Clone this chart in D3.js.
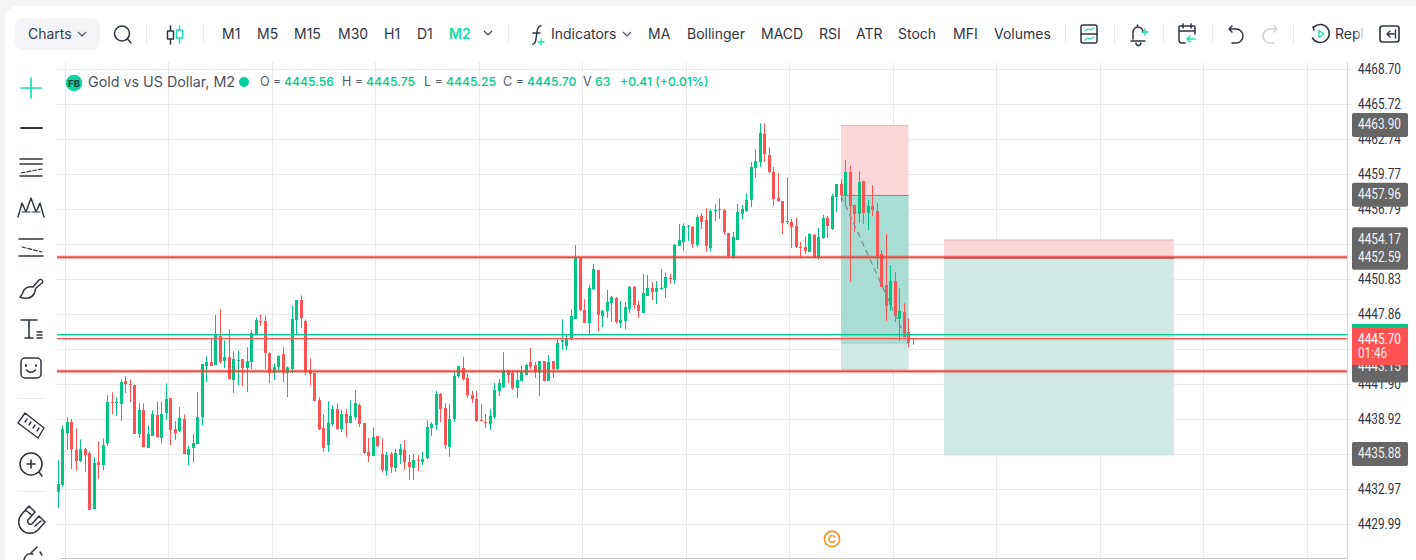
<!DOCTYPE html>
<html><head><meta charset="utf-8">
<script src="https://cdn.jsdelivr.net/npm/d3@7"></script>
<style>html,body{margin:0;padding:0;background:#f4f4f4;overflow:hidden}svg{display:block}text{font-family:Inter,"Noto Sans",sans-serif}</style>
</head><body><svg id="c" width="1416" height="560"></svg>
<script>
const opens=[4432.71,4433.31,4437.73,4438.67,4436.29,4435.35,4436.37,4436.03,4431.26,4435.26,4435.01,4436.88,4440.37,4440.29,4440.20,4442.16,4441.91,4441.82,4437.65,4439.69,4436.46,4437.48,4439.27,4437.31,4439.44,4440.71,4438.07,4437.90,4438.93,4435.86,4436.46,4436.80,4439.10,4443.44,4443.78,4443.52,4445.99,4443.86,4444.20,4442.25,4443.86,4444.03,4443.27,4443.78,4446.16,4447.27,4447.27,4444.54,4442.84,4443.35,4444.46,4442.84,4443.18,4447.35,4449.06,4447.27,4443.10,4442.84,4440.54,4438.16,4436.71,4438.50,4439.78,4438.08,4439.36,4438.59,4439.10,4440.12,4438.59,4436.12,4435.78,4437.48,4435.95,4434.50,4435.95,4434.76,4435.86,4436.29,4435.27,4434.76,4435.47,4435.27,4435.61,4438.16,4438.42,4441.06,4439.87,4436.55,4438.93,4442.59,4443.27,4442.42,4440.97,4440.63,4438.84,4438.67,4438.50,4439.10,4441.31,4441.65,4443.10,4442.85,4441.57,4442.17,4442.68,4443.78,4443.53,4442.85,4443.87,4442.17,4443.87,4443.19,4445.51,4445.15,4445.71,4447.44,4452.69,4448.21,4447.10,4450.00,4451.62,4447.70,4448.13,4448.81,4449.23,4447.11,4447.28,4448.30,4450.17,4448.64,4447.96,4449.40,4450.09,4449.74,4450.00,4450.09,4450.94,4450.77,4453.66,4454.00,4455.31,4455.28,4453.75,4456.22,4455.87,4453.49,4456.64,4456.73,4456.73,4454.77,4452.72,4454.17,4456.39,4456.64,4457.58,4460.30,4460.81,4463.20,4461.41,4459.96,4457.75,4457.49,4455.70,4455.70,4455.36,4453.58,4453.58,4453.15,4454.60,4452.72,4454.34,4456.04,4455.11,4457.83,4458.94,4458.00,4459.96,4457.15,4456.39,4459.20,4456.47,4457.07,4456.64,4452.98,4450.34,4448.64,4450.68,4447.45,4448.04,4446.34,4445.56];
const highs=[4435.41,4438.39,4439.07,4438.95,4438.13,4437.19,4436.46,4436.17,4435.66,4437.02,4437.28,4440.94,4441.20,4440.77,4442.30,4442.56,4442.30,4441.82,4440.26,4440.26,4438.39,4439.66,4440.43,4440.43,4441.96,4440.71,4438.76,4439.95,4439.32,4436.63,4437.65,4441.20,4443.61,4444.26,4445.79,4447.78,4448.26,4445.62,4446.56,4444.69,4444.77,4444.03,4445.03,4446.47,4447.58,4447.84,4447.75,4444.60,4443.66,4444.35,4445.03,4443.41,4448.60,4449.06,4449.45,4447.41,4444.09,4442.84,4440.77,4439.32,4440.43,4440.09,4440.26,4439.70,4439.78,4440.52,4441.40,4440.26,4438.59,4437.31,4438.22,4437.48,4437.28,4436.12,4436.12,4436.38,4436.80,4437.14,4435.86,4435.95,4435.86,4436.12,4438.82,4438.67,4441.31,4441.14,4440.26,4440.21,4442.93,4443.44,4444.21,4442.76,4441.31,4441.31,4440.21,4439.36,4439.78,4442.00,4442.34,4444.61,4443.10,4443.10,4443.10,4443.44,4443.61,4444.97,4443.78,4443.87,4443.87,4444.38,4443.87,4445.74,4447.42,4446.08,4448.27,4453.74,4452.69,4449.12,4450.34,4452.13,4451.62,4448.21,4449.91,4449.40,4449.32,4448.98,4448.89,4450.26,4450.26,4448.98,4451.28,4451.19,4450.60,4450.68,4451.70,4451.36,4451.28,4453.83,4455.53,4455.59,4455.45,4455.36,4456.30,4456.47,4456.87,4456.81,4457.24,4457.72,4456.81,4454.77,4454.85,4457.24,4457.15,4458.14,4460.81,4461.89,4464.10,4464.10,4462.06,4460.39,4459.85,4457.49,4459.51,4455.96,4456.07,4454.00,4454.46,4454.74,4454.68,4455.19,4456.30,4456.21,4458.09,4458.94,4459.34,4460.95,4460.47,4457.15,4460.02,4459.20,4457.58,4458.83,4457.32,4453.32,4454.68,4452.04,4451.42,4450.06,4448.78,4447.50,4445.75];
const lows=[4431.35,4433.16,4436.29,4434.67,4434.53,4435.26,4434.41,4431.18,4431.26,4433.82,4434.58,4436.63,4439.35,4439.18,4438.76,4441.14,4440.37,4437.65,4437.31,4436.54,4436.46,4437.48,4437.39,4436.88,4438.84,4436.71,4437.14,4437.82,4435.95,4435.01,4435.26,4436.80,4438.41,4442.08,4443.44,4443.52,4443.61,4443.27,4442.30,4441.14,4441.82,4441.74,4441.22,4443.18,4446.08,4446.84,4443.18,4441.99,4442.25,4442.84,4442.08,4440.80,4442.84,4446.05,4446.67,4442.67,4441.82,4440.46,4437.99,4436.12,4436.12,4438.33,4437.99,4437.82,4437.40,4438.59,4438.84,4438.25,4435.95,4435.27,4435.78,4436.55,4434.39,4434.08,4434.33,4434.42,4435.10,4434.59,4433.74,4433.74,4434.50,4435.01,4435.52,4437.48,4437.99,4438.67,4436.38,4435.70,4438.67,4442.42,4442.17,4440.72,4440.29,4438.67,4438.76,4438.16,4437.99,4438.93,4440.89,4441.57,4442.00,4441.40,4440.72,4442.17,4442.68,4443.19,4442.42,4440.89,4442.17,4442.17,4442.42,4443.10,4444.80,4444.80,4445.66,4447.44,4448.13,4447.10,4446.11,4449.91,4446.42,4446.76,4447.53,4447.19,4447.02,4446.68,4446.59,4447.96,4448.30,4447.53,4447.96,4449.40,4449.06,4448.72,4449.91,4449.23,4450.43,4450.43,4453.66,4453.24,4454.09,4453.49,4453.58,4455.11,4453.15,4453.24,4455.79,4455.96,4454.60,4452.72,4452.55,4454.17,4455.96,4456.56,4456.98,4459.45,4460.39,4460.81,4459.88,4457.07,4457.41,4454.68,4455.53,4453.49,4453.49,4452.72,4452.98,4453.15,4452.64,4452.47,4454.26,4454.34,4455.02,4456.56,4457.41,4457.24,4450.60,4454.85,4455.62,4455.53,4455.02,4456.21,4451.70,4450.17,4447.28,4448.13,4447.19,4445.57,4445.91,4445.06,4445.25];
const closes=[4433.39,4438.07,4438.67,4436.37,4435.35,4436.37,4435.86,4431.18,4435.18,4435.01,4436.71,4440.37,4440.29,4440.37,4442.08,4441.91,4441.82,4437.65,4439.69,4436.54,4437.65,4439.35,4437.39,4439.35,4440.63,4437.99,4437.73,4439.01,4435.95,4436.37,4436.88,4439.10,4443.61,4443.78,4443.44,4446.08,4443.78,4444.20,4442.33,4444.03,4443.95,4443.27,4443.86,4446.25,4447.35,4447.18,4444.54,4442.84,4443.35,4444.29,4442.84,4443.32,4447.44,4449.06,4447.52,4442.93,4442.76,4440.46,4438.07,4436.46,4438.59,4439.78,4438.08,4439.36,4438.59,4439.19,4440.29,4438.50,4436.04,4435.78,4437.40,4436.63,4434.59,4435.86,4434.84,4436.04,4436.38,4435.27,4434.84,4435.44,4435.38,4435.52,4438.25,4438.50,4441.06,4439.78,4436.72,4438.93,4442.59,4443.44,4442.34,4440.97,4440.63,4438.76,4438.76,4438.59,4439.19,4441.40,4442.00,4443.10,4442.68,4441.57,4442.25,4443.02,4443.53,4443.36,4442.93,4443.87,4442.17,4443.78,4443.19,4445.40,4445.66,4445.74,4447.70,4452.69,4448.21,4447.10,4450.08,4451.70,4447.79,4448.13,4448.89,4449.32,4447.19,4447.36,4448.47,4450.17,4448.64,4448.13,4449.66,4450.09,4449.74,4450.09,4450.09,4451.02,4450.85,4453.75,4454.17,4455.36,4455.39,4453.83,4456.13,4455.70,4453.66,4456.64,4456.73,4456.81,4454.85,4452.81,4454.43,4456.56,4456.81,4457.58,4460.39,4460.90,4463.28,4461.49,4459.96,4457.66,4457.49,4455.62,4455.79,4455.28,4453.58,4453.49,4453.24,4454.68,4452.72,4454.43,4456.04,4455.36,4457.92,4458.94,4458.00,4459.96,4457.07,4456.39,4459.11,4456.47,4457.07,4456.73,4452.81,4450.17,4448.55,4450.68,4447.70,4448.13,4445.91,4445.40,4445.70];
const tickValues=[4468.70,4465.72,4462.74,4459.77,4456.79,4453.81,4450.83,4447.86,4444.88,4441.90,4438.92,4435.95,4432.97,4429.99];
const gridIndexes=[1.5,24.5,47.5,70.5,93.5,116.5,139.5,162.5,185.5,208.5,231.5,254.5,277.5];
const levelPrices=[4452.70,4442.99];
const askPrice=4446.11, bidPrice=4445.77;
const labelValues=[4463.90,4457.96,4454.17,4452.59,4443.15,4435.88];
const firstPosition=[4463.90,4457.96,4445.32,4443.15];
const secondPosition=[4454.17,4452.59,4435.88,4435.88];
const timeframes=["M1","M5","M15","M30","H1","D1","M2"];
const timeframeX=[222,257,294,338,384,417,449];
const indicators=["MA","Bollinger","MACD","RSI","ATR","Stoch","MFI","Volumes"];
const indicatorX=[648,687,761,819,856,898,953,994];

const svg=d3.select("#c");
const GREEN="#00c585",RED="#ff5252",DARK="#2f3443";
const y=d3.scaleLinear().domain([4468.70,4429.99]).range([69.3,524]);
const x=d3.scaleLinear().domain([0,190]).range([58.3,913.3]);
const xCell=i=>Math.floor(x(i));

svg.append("rect").attr("x",5).attr("y",6).attr("width",1430).attr("height",600).attr("rx",14).attr("fill","#fff");

// grid
const grid=svg.append("g");
grid.selectAll("line.v").data(gridIndexes).join("line").attr("class","v").attr("x1",d=>xCell(d)+.5).attr("x2",d=>xCell(d)+.5).attr("y1",62).attr("y2",558).attr("stroke","#ebebeb");
grid.selectAll("line.h").data(tickValues).join("line").attr("class","h").attr("x1",57).attr("x2",1352).attr("y1",d=>Math.round(y(d))+.5).attr("y2",d=>Math.round(y(d))+.5).attr("stroke","#ebebeb");
svg.append("line").attr("x1",1347.5).attr("x2",1347.5).attr("y1",62).attr("y2",558).attr("stroke","#d6d6d6");
svg.append("line").attr("x1",60).attr("x2",1347).attr("y1",558.5).attr("y2",558.5).attr("stroke","#c9c9c9");

// position boxes
const pos=svg.append("g");
const boxes=[{x0:841,x1:908.5,p:firstPosition},{x0:944,x1:1174,p:secondPosition}];
boxes.forEach(b=>{
  const [top,mid,darkB,bot]=b.p, w=b.x1-b.x0;
  pos.append("rect").attr("x",b.x0).attr("width",w).attr("y",y(top)).attr("height",y(mid)-y(top)).attr("fill","#fcd7da");
  pos.append("rect").attr("x",b.x0).attr("width",w).attr("y",y(mid)).attr("height",y(bot)-y(mid)).attr("fill","#cfeae4");
  if(darkB!==bot) pos.append("rect").attr("x",b.x0).attr("width",w).attr("y",y(mid)).attr("height",y(darkB)-y(mid)).attr("fill","#a9dcd2");
  pos.append("line").attr("x1",b.x0).attr("x2",b.x1).attr("y1",y(top)).attr("y2",y(top)).attr("stroke","#e0b9bc").attr("stroke-width",1);
  pos.append("line").attr("x1",b.x0).attr("x2",b.x1).attr("y1",y(mid)).attr("y2",y(mid)).attr("stroke","#7f8a87").attr("stroke-width",1);
  pos.append("line").attr("x1",b.x0).attr("x2",b.x1).attr("y1",y(bot)).attr("y2",y(bot)).attr("stroke","#bfe2da").attr("stroke-width",1);
});

// candles
const idx=d3.range(opens.length);
const cs=svg.append("g");
cs.selectAll("rect.w").data(idx).join("rect").attr("class","w").attr("x",i=>xCell(i)).attr("width",1)
  .attr("y",i=>y(highs[i])).attr("height",i=>Math.max(1,y(lows[i])-y(highs[i])))
  .attr("fill",i=>closes[i]>=opens[i]?GREEN:RED);
cs.selectAll("rect.b").data(idx.slice(0,190)).join("rect").attr("class","b").attr("x",i=>xCell(i)-1).attr("width",3)
  .attr("y",i=>y(Math.max(opens[i],closes[i]))).attr("height",i=>Math.max(1,Math.abs(y(opens[i])-y(closes[i]))))
  .attr("fill",i=>closes[i]>=opens[i]?GREEN:RED);

// dashed trend
svg.append("line").attr("x1",841).attr("x2",908.5).attr("y1",y(firstPosition[1])).attr("y2",y(firstPosition[2])).attr("stroke","#7c8f8c").attr("stroke-width",1.2).attr("stroke-dasharray","6 4");

// level lines
levelPrices.forEach(p=>{
  svg.append("rect").attr("x",57).attr("width",1290).attr("y",y(p)-1.8).attr("height",3.6).attr("fill","#f44336").attr("fill-opacity",.35);
  svg.append("rect").attr("x",57).attr("width",1290).attr("y",y(p)-.8).attr("height",1.6).attr("fill","#f44336");
});
svg.append("rect").attr("id","askLine").attr("x",57).attr("width",1290).attr("y",y(askPrice)-.7).attr("height",1.4).attr("fill","#00c98d");
svg.append("rect").attr("id","bidLine").attr("x",57).attr("width",1290).attr("y",y(bidPrice)-.7).attr("height",1.4).attr("fill","#ff5555");

// tick labels
const axisFont=t=>t.style("font-family","Roboto").attr("font-size",14.4).attr("textLength",43).attr("lengthAdjust","spacingAndGlyphs");
const tk=svg.append("g");
tk.selectAll("text").data(tickValues).join("text").attr("x",1358).attr("y",d=>y(d)+4.8).attr("fill","#2f3443").text(d=>d.toFixed(2)).call(axisFont);

// price labels
const lb=svg.append("g");
labelValues.forEach(v=>{
  const extra=v===4443.15?2:0;
  lb.append("rect").attr("x",1352).attr("width",56).attr("y",y(v)-12.8).attr("height",24+extra).attr("rx",2).attr("fill","#666");
});
labelValues.forEach(v=>{
  const dy=v===4443.15?-2:0;
  lb.append("text").attr("x",1358).attr("y",y(v)+3.6+dy).attr("fill","#f2f2f2").text(v.toFixed(2)).call(axisFont);
});
lb.append("rect").attr("x",1352).attr("width",56).attr("y",324).attr("height",8).attr("rx",1).attr("fill",GREEN);
lb.append("rect").attr("x",1352).attr("width",56).attr("y",327).attr("height",38).attr("fill",RED);
lb.append("text").attr("x",1358).attr("y",343.5).attr("fill","#fff").text(closes[closes.length-1].toFixed(2)).call(axisFont);
lb.append("text").attr("x",1358).attr("y",357.5).attr("fill","#ffe9e9").style("font-family","Roboto").attr("font-size",14).attr("textLength",29).attr("lengthAdjust","spacingAndGlyphs").text("01:46");

// copyright
svg.append("circle").attr("cx",832).attr("cy",539).attr("r",7.6).attr("fill","none").attr("stroke","#f5921e").attr("stroke-width",1.6);
svg.append("text").attr("x",832).attr("y",543).attr("text-anchor","middle").attr("font-size",11).attr("font-weight",600).attr("fill","#f5921e").text("C");

// legend
const T=(xx,yy,s,fill,size,weight)=>svg.append("text").attr("x",xx).attr("y",yy).attr("fill",fill).attr("font-size",size||13.5).attr("font-weight",weight||400).text(s);
svg.append("circle").attr("cx",74).attr("cy",83).attr("r",8.3).attr("fill","#0fd6a0");
svg.append("text").attr("x",74).attr("y",86.6).attr("text-anchor","middle").attr("font-size",9.5).attr("font-weight",700).attr("fill","#173a33").text("FB");
T(88,87,"Gold vs US Dollar, M2","#4d5260",14.3);
svg.append("circle").attr("cx",244).attr("cy",82).attr("r",5).attr("fill","#00d09c");
const LG="#00c98d",LD="#555a66";
[[260,"O ="],[342,"H ="],[424,"L ="],[503,"C ="],[583,"V"]].forEach(([a,s])=>T(a,86,s,LD,12.5));
[[284,opens[190]],[366,highs[190]],[446,lows[190]],[527,closes[190]]].forEach(([a,v])=>T(a,86,v.toFixed(2),LG,12.2,500));
T(595,86,"63",LG,12.2,500);
T(620,86,"+0.41 (+0.01%)",LG,12.2,500);

// top toolbar
svg.append("rect").attr("x",15).attr("y",18).attr("width",85).attr("height",32).attr("rx",8).attr("fill","#f4f4f6");
T(28,39,"Charts","#2f3d52",14);
const chev=(cx,cy,c)=>svg.append("path").attr("d",`M${cx-4} ${cy-2}L${cx} ${cy+2}L${cx+4} ${cy-2}`).attr("fill","none").attr("stroke",c||"#4a5060").attr("stroke-width",1.1);
chev(82,34);
timeframes.forEach((s,i)=>T(timeframeX[i],39,s,s==="M2"?"#10dca8":"#2f3443",14,s==="M2"?600:400));
chev(488,33,"#333a48");
[146,203,508,1065,1114,1163,1212,1293].forEach(a=>svg.append("line").attr("x1",a+.5).attr("x2",a+.5).attr("y1",24).attr("y2",44).attr("stroke","#ececec"));
indicators.forEach((s,i)=>T(indicatorX[i],39,s,"#2f3443",14,400));
T(551,39,"Indicators","#2f3443",14,400);
chev(627,34);
// icons
const ic=svg.append("g").attr("fill","none").attr("stroke",DARK).attr("stroke-width",1.5).attr("stroke-linecap","round").attr("stroke-linejoin","round");
const P=(d,c,w)=>ic.append("path").attr("d",d).attr("stroke",c||DARK).attr("stroke-width",w||1.5);
const ACC="#1ddfae";
ic.append("circle").attr("cx",122).attr("cy",33.5).attr("r",7.5).attr("stroke-width",1.6); P("M127.5 39L131 43",DARK,1.6);
P("M170.5 26V31M170.5 39V44M167.5 31h6v8h-6z"); P("M179.5 26V30M179.5 38V43M176.5 30h6v8h-6z",ACC);
P("M541 26c-3 0-3.4 2-3.8 5l-1.4 9c-.4 2.6-1 4-3 4M533 33h7"); P("M541 39v6M538 42h6",ACC,1.3);
ic.append("rect").attr("x",1081).attr("y",25).attr("width",16).attr("height",18).attr("rx",2);P("M1081 34h16");P("M1085 31l3-2 3 1 3-2M1085 40l3-2 3 1 3-2",ACC,1.2);
P("M1133 39v-7a5 5 0 0 1 10 0M1131 41h14M1136 43a2.4 2.4 0 0 0 4.8 0M1137.5 25v1.5");P("M1145 29v6M1142 32h6",ACC);
P("M1179 31h16M1179 40v-13a1 1 0 0 1 1-1h14a1 1 0 0 1 1 1v7M1183 24v4M1191 24v4M1179 40a3 3 0 0 0 3 3h3");P("M1195 39h-8M1190 36l-3 3 3 3",ACC,1.4);
P("M1232 26l-3 3 3 3M1229 29h7a6 6 0 0 1 0 14h-4");
P("M1274 26l3 3-3 3M1277 29h-7a6 6 0 0 0 0 14h4","#cfcfcf");
P("M1316 26l-3 1 1 3M1314 27a9 9 0 1 1-1.5 11");P("M1319 30.5l5 3.5-5 3.5z",ACC,1.3);
T(1335,39,"Replay","#2f3443",14);
const gd=svg.append("defs").append("linearGradient").attr("id","fade");
gd.append("stop").attr("offset",0).attr("stop-color","#fff").attr("stop-opacity",0);
gd.append("stop").attr("offset",1).attr("stop-color","#fff");
svg.append("rect").attr("x",1355).attr("y",22).attr("width",10).attr("height",24).attr("fill","url(#fade)");
svg.append("rect").attr("x",1365).attr("y",22).attr("width",14).attr("height",24).attr("fill","#fff");
ic.append("rect").attr("x",1380).attr("y",26).attr("width",19).attr("height",16).attr("rx",2.5).attr("stroke-width",1.6);
P("M1394 34h-7M1390 31l-3 3 3 3M1395.5 30v8",DARK,1.4);

// left toolbar
P("M21 88H41M31 78V98",ACC,1.7);
P("M21 128H42",DARK,1.8);
P("M20 159H42M20 164H42M20 176H42",DARK,1.5);P("M21 173l21-4",DARK,1.2).attr("stroke-dasharray","4 2");
P("M18 217l4-14 4 9 5-14 5 14 4-9 4 14",DARK,1.4);P("M22 212h18",DARK,1).attr("stroke-dasharray","3 2");
P("M19 239H43M19 256H43",DARK,1.6);P("M22 247l20 5",DARK,1.2).attr("stroke-dasharray","4 2");
P("M36 288l6-5a2 2 0 0 0-3-3l-6 7M33 287c-4-1-9 1-10 5-.5 3-2 3.5-3 5 4 2 11 2 14-3 1-2 1-4 2-6");
P("M21 320H37M29 320V338M25 338H33",DARK,1.6);P("M37 332H42M37 335H42M37 338H42",DARK,1.5);
ic.append("rect").attr("x",21).attr("y",358).attr("width",20).attr("height",20).attr("rx",4);
P("M26 365v1M36 365v1",DARK,1.8);P("M26.5 370c2.5 3 6.5 3 9 0");
[[17,45,398.5],[17,45,491.5]].forEach(([a,b,c])=>svg.append("line").attr("x1",a).attr("x2",b).attr("y1",c).attr("y2",c).attr("stroke","#ececec"));
P("M18 423L25 413L44 428L38 438ZM27 419l-2 3M31 422l-2 3M35 425l-2 3M39 428l-2 3",DARK,1.4);
ic.append("circle").attr("cx",31).attr("cy",464).attr("r",11).attr("stroke-width",1.5);P("M31 460v8M27 464h8",DARK,1.6);P("M39 472l3 4",DARK,1.5);
P("M29 506L22 514A11 11 0 0 0 38 530L45 522L39 516L32 524A3 3 0 0 1 28 520L35 512ZM25.5 510l6 5M35 526l6-5",DARK,1.5);
P("M37 547l-7 7M24 560c1-5 4-7 9-6M40 552l2 3",DARK,1.5);
</script></body></html>
